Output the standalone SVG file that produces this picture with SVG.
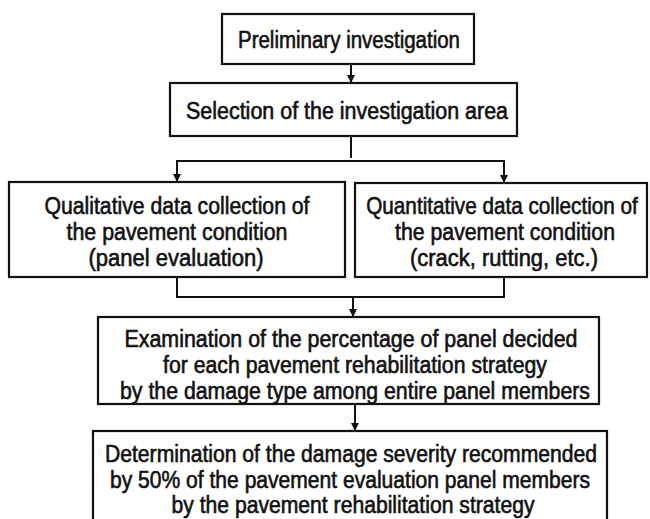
<svg xmlns="http://www.w3.org/2000/svg" width="650" height="519" viewBox="0 0 650 519">
<defs>
<style>
.box{fill:#fff;stroke:#111;stroke-width:2.2}
.t{font-family:"Liberation Sans","DejaVu Sans",sans-serif;font-size:23px;fill:#111;text-anchor:middle;stroke:#111;stroke-width:0.6}
.c{fill:none;stroke:#111;stroke-width:2}
</style>
<marker id="ah" viewBox="0 0 8 8" refX="7" refY="4" markerWidth="4" markerHeight="4" orient="auto" markerUnits="strokeWidth">
<path d="M0,0 L8,4 L0,8 z" fill="#111"/>
</marker>
</defs>
<rect width="650" height="519" fill="#fff"/>
<g id="connectors">
<path class="c" d="M351,64 V82" marker-end="url(#ah)"/>
<path class="c" d="M351,136 V158"/>
<path class="c" d="M177,161 H504"/>
<path class="c" d="M177,160 V181" marker-end="url(#ah)"/>
<path class="c" d="M504,160 V182" marker-end="url(#ah)"/>
<path class="c" d="M177,277 V297 H504 V277"/>
<path class="c" d="M353,297 V316" marker-end="url(#ah)"/>
<path class="c" d="M355,404 V430" marker-end="url(#ah)"/>
</g>
<g id="n1">
<rect class="box" x="222" y="14" width="252" height="50"/>
<text class="t" x="349" y="48" textLength="222" lengthAdjust="spacingAndGlyphs">Preliminary investigation</text>
</g>
<g id="n2">
<rect class="box" x="170" y="83" width="347" height="53"/>
<text class="t" x="347" y="119" textLength="322" lengthAdjust="spacingAndGlyphs">Selection of the investigation area</text>
</g>
<g id="n3">
<rect class="box" x="9" y="182" width="336" height="95"/>
<text class="t" x="177" y="214" textLength="265" lengthAdjust="spacingAndGlyphs">Qualitative data collection of</text>
<text class="t" x="177" y="240" textLength="221" lengthAdjust="spacingAndGlyphs">the pavement condition</text>
<text class="t" x="176" y="266" textLength="175" lengthAdjust="spacingAndGlyphs">(panel evaluation)</text>
</g>
<g id="n4">
<rect class="box" x="355" y="183" width="292" height="94"/>
<text class="t" transform="translate(502,214) scale(0.9,1)" x="0" y="0">Quantitative data collection of</text>
<text class="t" x="505" y="240" textLength="220" lengthAdjust="spacingAndGlyphs">the pavement condition</text>
<text class="t" x="504" y="266" textLength="188" lengthAdjust="spacingAndGlyphs">(crack, rutting, etc.)</text>
</g>
<g id="n5">
<rect class="box" x="98" y="317" width="501" height="87"/>
<text class="t" x="351" y="347" textLength="453" lengthAdjust="spacingAndGlyphs">Examination of the percentage of panel decided</text>
<text class="t" x="355" y="373" textLength="384" lengthAdjust="spacingAndGlyphs">for each pavement rehabilitation strategy</text>
<text class="t" x="355" y="399" textLength="470" lengthAdjust="spacingAndGlyphs">by the damage type among entire panel members</text>
</g>
<g id="n6">
<rect class="box" x="93" y="431" width="514" height="92"/>
<text class="t" x="351" y="462" textLength="492" lengthAdjust="spacingAndGlyphs">Determination of the damage severity recommended</text>
<text class="t" x="350" y="488" textLength="480" lengthAdjust="spacingAndGlyphs">by 50% of the pavement evaluation panel members</text>
<text class="t" x="353" y="513" textLength="363" lengthAdjust="spacingAndGlyphs">by the pavement rehabilitation strategy</text>
</g>
</svg>
